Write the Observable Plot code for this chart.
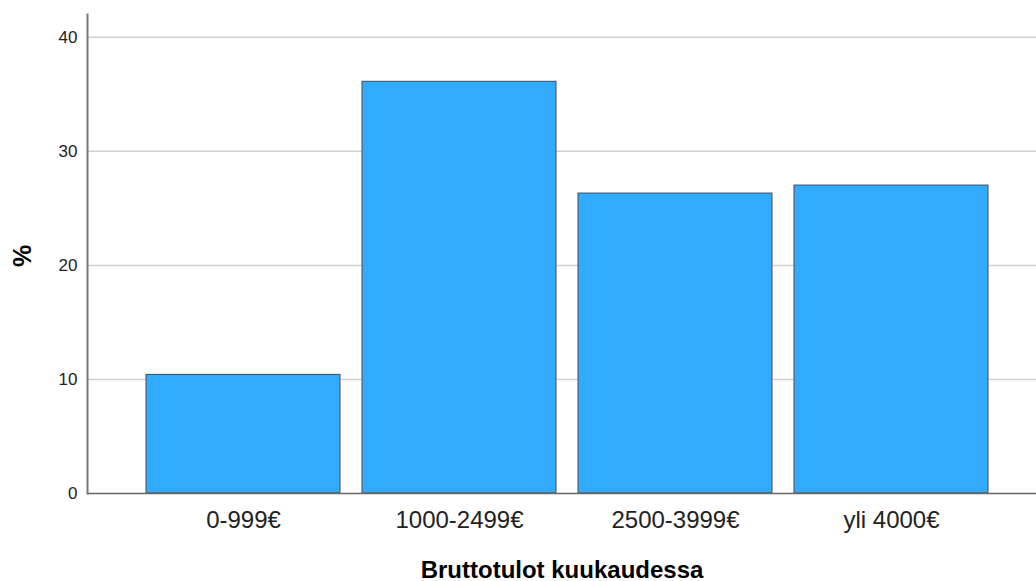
<!DOCTYPE html>
<html>
<head>
<meta charset="utf-8">
<script src="https://cdn.jsdelivr.net/npm/d3@7"></script>
<script src="https://cdn.jsdelivr.net/npm/@observablehq/plot@0.6"></script>
<style>
  body { margin: 0; background: #fff; }
  #chart svg { display: block; }
  [aria-label="x-axis label"] text { font-weight: bold; font-size: 24px; fill: #000; }
</style>
</head>
<body>
<div id="chart"></div>
<script>
const categories = ["0-999€", "1000-2499€", "2500-3999€", "yli 4000€"];
const percents = [10.4, 36.1, 26.3, 27.0];
const yTicks = [0, 10, 20, 30, 40];
const gridTicks = [10, 20, 30, 40];
const yTitle = ["%"];

const data = categories.map((c, i) => ({category: c, pct: percents[i]}));

const chart = Plot.plot({
  width: 1036,
  height: 581,
  marginLeft: 87,
  marginRight: 0,
  marginTop: 14,
  marginBottom: 88,
  style: {fontFamily: "Liberation Sans, Arial, sans-serif", background: "#fff", color: "#222"},
  x: {domain: categories, paddingInner: 0.1, paddingOuter: 0.24, align: 0.55},
  y: {domain: [0, 42]},
  marks: [
    Plot.ruleY(gridTicks, {stroke: "#d0d0d0", strokeWidth: 1.5}),
    Plot.barY(data, {x: "category", y: "pct", fill: "#31abff", stroke: "#4a4a4a", strokeWidth: 1}),
    Plot.ruleY([0], {stroke: "#666", strokeWidth: 1.5}),
    Plot.frame({anchor: "left", stroke: "#777", strokeWidth: 2}),
    Plot.axisY({ticks: yTicks, tickSize: 0, tickPadding: 10, fontSize: 17, label: null}),
    Plot.text(yTitle, {frameAnchor: "left", textAnchor: "middle", dx: -65, dy: 2, rotate: -90, fontSize: 25, fontWeight: "bold", fill: "#000"}),
    Plot.axisX({tickSize: 0, tickPadding: 17, fontSize: 24, label: "Bruttotulot kuukaudessa", labelAnchor: "center", labelOffset: 84})
  ]
});
document.getElementById("chart").appendChild(chart);
</script>
</body>
</html>
